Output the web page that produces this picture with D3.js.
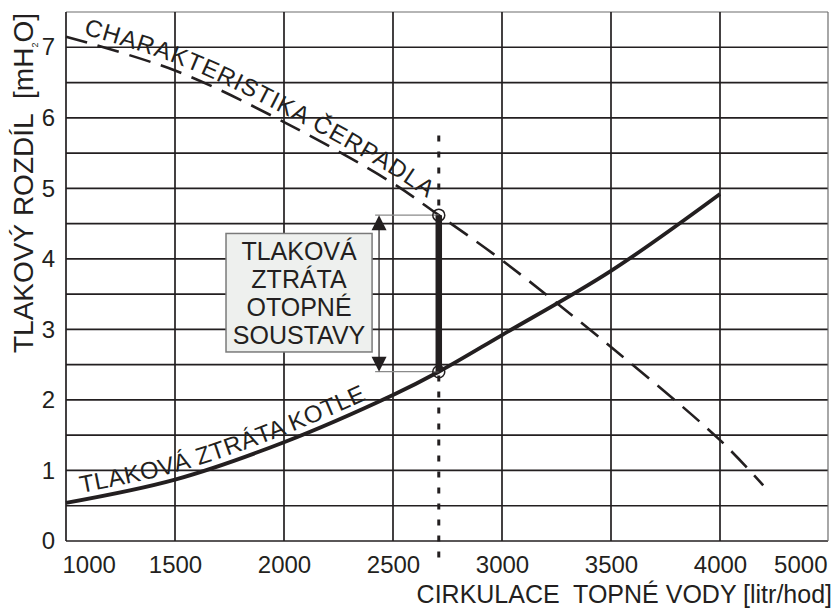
<!DOCTYPE html>
<html>
<head>
<meta charset="utf-8">
<script src="https://cdn.jsdelivr.net/npm/d3@7"></script>
<style>
  html, body { margin: 0; padding: 0; background: #fff; }
  svg { display: block; }
  text { font-family: "Liberation Sans", Arial, sans-serif; fill: #231f20; white-space: pre; }
</style>
</head>
<body>
<svg id="chart" width="835" height="608"></svg>
<script>
// ---------------- data ----------------
const xTicks = [1000, 1500, 2000, 2500, 3000, 3500, 4000, 5000];
const yTicks = [0, 1, 2, 3, 4, 5, 6, 7];
const yGrid = [0, 0.5, 1, 1.5, 2, 2.5, 3, 3.5, 4, 4.5, 5, 5.5, 6, 6.5, 7, 7.5];

const pumpFlow = [1000, 1500, 2000, 2500, 2710, 3000, 3500, 4000, 4400];
const pumpHead = [7.15, 6.67, 5.94, 5.07, 4.62, 3.98, 2.75, 1.43, 0.79];

const boilerFlow = [1000, 1500, 2000, 2500, 2710, 3000, 3500, 4000];
const boilerLoss = [0.54, 0.87, 1.40, 2.07, 2.40, 2.92, 3.83, 4.92];

const opFlow = 2710;
const opPump = 4.62;
const opBoiler = 2.40;
const guideRange = [5.75, -0.34];

const boxLines = ["TLAKOVÁ", "ZTRÁTA", "OTOPNÉ", "SOUSTAVY"];
const pumpLabel = "CHARAKTERISTIKA ČERPADLA";
const boilerLabel = "TLAKOVÁ ZTRÁTA KOTLE";
const xTitle = "CIRKULACE  TOPNÉ VODY [litr/hod]";

// ---------------- layout ----------------
const mLeft = 66, mRight = 828, mTop = 12, mBottom = 541;

const svg = d3.select("#chart");

const x = d3.scaleLinear().domain([1000, 4000, 5000]).range([mLeft, 720, mRight]);
const y = d3.scaleLinear().domain([0, 7.5]).range([mBottom, mTop]);

const ink = "#231f20";

// grid
const g = svg.append("g");
g.selectAll("line.h").data(yGrid).enter().append("line")
  .attr("x1", mLeft).attr("x2", mRight)
  .attr("y1", d => y(d)).attr("y2", d => y(d))
  .attr("stroke", d => d === 7.5 ? "#6d6d6d" : ink)
  .attr("stroke-width", d => d === 7.5 ? 1.2 : 1.7);
g.selectAll("line.v").data(xTicks).enter().append("line")
  .attr("x1", d => x(d)).attr("x2", d => x(d))
  .attr("y1", mTop).attr("y2", mBottom)
  .attr("stroke", d => d === 5000 ? "#6d6d6d" : ink)
  .attr("stroke-width", d => d === 5000 ? 1.2 : 1.7);

// axes labels
const xAxis = d3.axisBottom(x).tickValues(xTicks).tickSize(0).tickPadding(0).tickFormat(d3.format("d"));
const xg = svg.append("g").attr("transform", `translate(0,${mBottom})`).call(xAxis);
xg.select(".domain").remove();
xg.selectAll("text")
  .attr("y", 32).attr("dy", 0)
  .style("font-size", "24px")
  .style("font-family", "'Liberation Sans', Arial, sans-serif")
  .attr("fill", ink)
  .attr("text-anchor", (d, i) => i === 0 ? "start" : (i === xTicks.length - 1 ? "end" : "middle"))
  .attr("x", (d, i) => i === 0 ? -4 : (i === xTicks.length - 1 ? -1 : 0));

const yAxis = d3.axisLeft(y).tickValues(yTicks).tickSize(0).tickPadding(11).tickFormat(d3.format("d"));
const yg = svg.append("g").attr("transform", `translate(${mLeft},0)`).call(yAxis);
yg.select(".domain").remove();
yg.selectAll("text")
  .style("font-size", "24px")
  .style("font-family", "'Liberation Sans', Arial, sans-serif")
  .attr("fill", ink);

// curves
const line = d3.line().x(d => x(d[0])).y(d => y(d[1])).curve(d3.curveCatmullRom.alpha(0.5));
const pumpData = pumpFlow.map((f, i) => [f, pumpHead[i]]);
const boilerData = boilerFlow.map((f, i) => [f, boilerLoss[i]]);

svg.append("path").attr("id", "pumpPath").attr("d", line(pumpData))
  .attr("fill", "none").attr("stroke", ink).attr("stroke-width", 2.6)
  .attr("stroke-dasharray", "22,11");
svg.append("path").attr("id", "boilerPath").attr("d", line(boilerData))
  .attr("fill", "none").attr("stroke", ink).attr("stroke-width", 3.8);

// vertical dotted guide
svg.append("line")
  .attr("x1", x(opFlow)).attr("x2", x(opFlow))
  .attr("y1", y(guideRange[0])).attr("y2", y(guideRange[1]))
  .attr("stroke", ink).attr("stroke-width", 3).attr("stroke-dasharray", "6,10");

// box
const boxX0 = x(1734), boxX1 = x(2404), boxY0 = y(4.36), boxY1 = y(2.68);
svg.append("rect").attr("x", boxX0).attr("y", boxY0)
  .attr("width", boxX1 - boxX0).attr("height", boxY1 - boxY0)
  .attr("fill", "#eef0ee").attr("stroke", "#7a7a7a").attr("stroke-width", 1.5);
svg.append("g").selectAll("text").data(boxLines).enter().append("text")
  .attr("x", (boxX0 + boxX1) / 2).attr("y", (d, i) => boxY0 + 27 + i * 28)
  .attr("text-anchor", "middle").style("font-size", "25px").text(d => d);

// bracket lines to operating points
const arrowFlow = 2436;
[opPump, opBoiler].forEach(v => {
  svg.append("line").attr("x1", x(2418)).attr("x2", x(opFlow))
    .attr("y1", y(v)).attr("y2", y(v))
    .attr("stroke", "#8a8a8a").attr("stroke-width", 1.3);
});
// double arrow
const ax = x(arrowFlow), ayT = y(opPump), ayB = y(opBoiler);
svg.append("line").attr("x1", ax).attr("x2", ax).attr("y1", ayT + 10).attr("y2", ayB - 10)
  .attr("stroke", ink).attr("stroke-width", 1.2);
svg.append("path").attr("d", `M${ax},${ayT} L${ax - 7.5},${ayT + 15} L${ax + 7.5},${ayT + 15} Z`).attr("fill", ink);
svg.append("path").attr("d", `M${ax},${ayB} L${ax - 7.5},${ayB - 15} L${ax + 7.5},${ayB - 15} Z`).attr("fill", ink);

// thick bar between operating points
svg.append("line").attr("x1", x(opFlow)).attr("x2", x(opFlow))
  .attr("y1", y(opPump)).attr("y2", y(opBoiler))
  .attr("stroke", ink).attr("stroke-width", 6.5);

// circles
[opPump, opBoiler].forEach(v => {
  svg.append("circle").attr("cx", x(opFlow)).attr("cy", y(v)).attr("r", 6)
    .attr("fill", "none").attr("stroke", ink).attr("stroke-width", 1.5);
});

// curve labels
svg.append("text").style("font-size", "24px").style("letter-spacing", "1px").attr("dy", -7)
  .append("textPath").attr("href", "#pumpPath").attr("startOffset", 16).text(pumpLabel);
svg.append("text").style("font-size", "24px").style("letter-spacing", "0.5px").attr("dy", -7)
  .append("textPath").attr("href", "#boilerPath").attr("startOffset", 17).text(boilerLabel);

// titles
svg.append("text").attr("x", 832).attr("y", 603).attr("text-anchor", "end")
  .style("font-size", "25px").text(xTitle);

const yt = svg.append("text").attr("transform", "translate(33,13) rotate(-90)")
  .attr("text-anchor", "end").style("font-size", "28px");
yt.append("tspan").text("TLAKOVÝ ROZDÍL  [mH");
yt.append("tspan").attr("dy", 5).style("font-size", "9px").text("2");
yt.append("tspan").attr("dy", -5).text("O]");
</script>
</body>
</html>
